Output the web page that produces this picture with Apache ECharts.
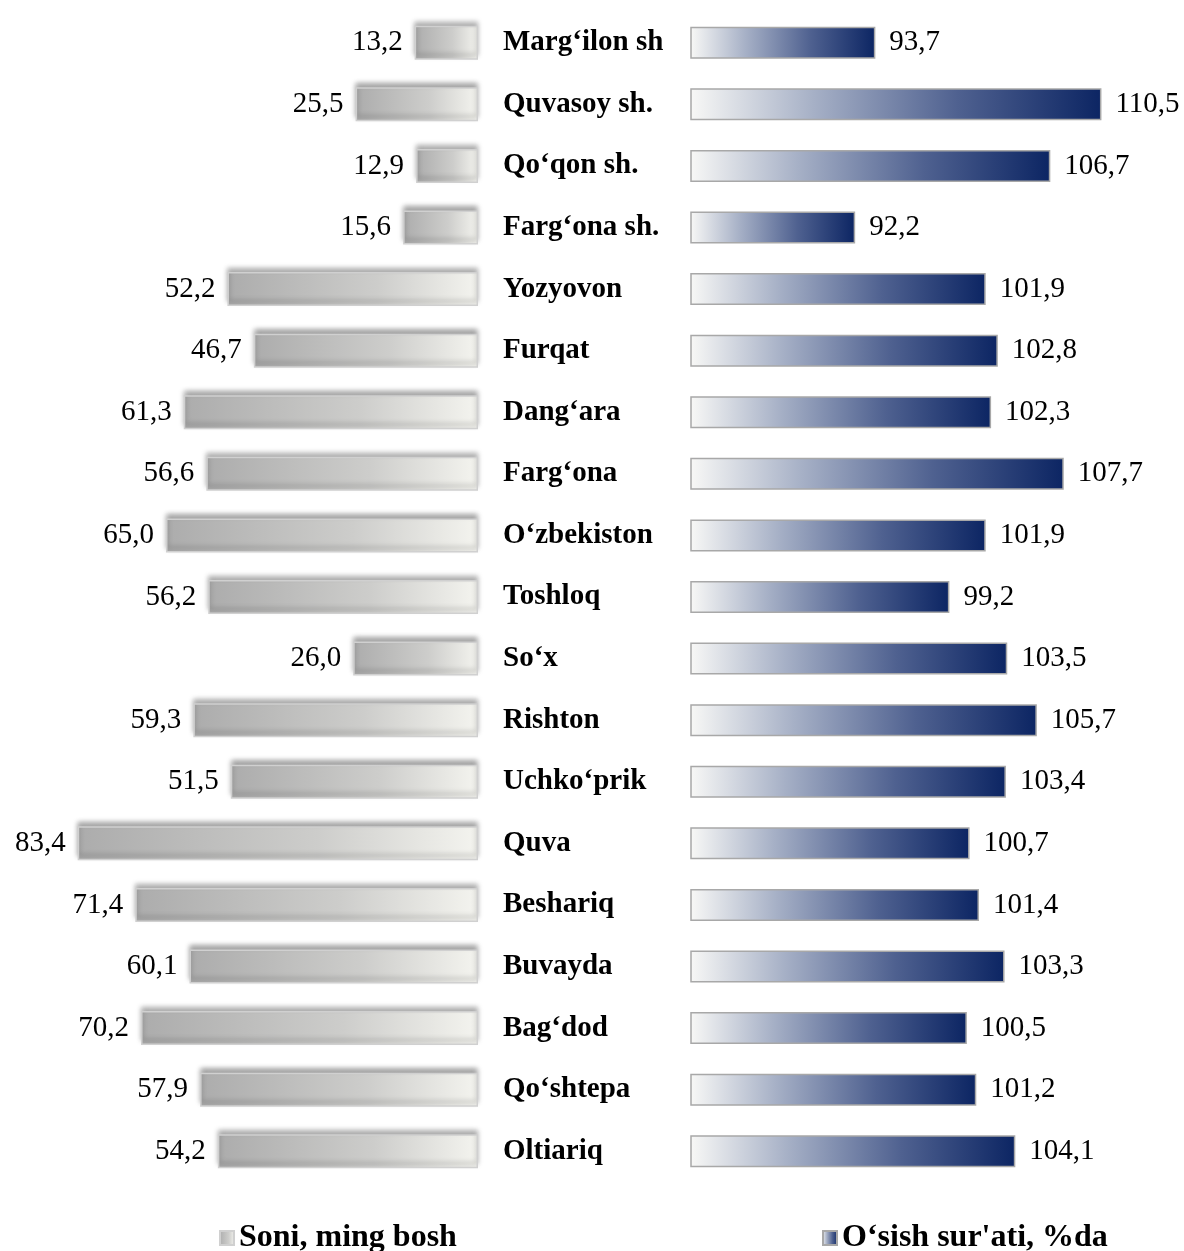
<!DOCTYPE html>
<html>
<head>
<meta charset="utf-8">
<script src="https://cdn.jsdelivr.net/npm/echarts@6/dist/echarts.min.js"></script>
<style>html,body{margin:0;padding:0;background:#fff}#c{width:1184px;height:1251px}</style>
</head>
<body>
<div id="c"></div>
<script>
var categories = ["Marg‘ilon sh.", "Quvasoy sh.", "Qo‘qon sh.", "Farg‘ona sh.", "Yozyovon", "Furqat", "Dang‘ara", "Farg‘ona", "O‘zbekiston", "Toshloq", "So‘x", "Rishton", "Uchko‘prik", "Quva", "Beshariq", "Buvayda", "Bag‘dod", "Qo‘shtepa", "Oltiariq"];
var soniValues = [13.2, 25.5, 12.9, 15.6, 52.2, 46.7, 61.3, 56.6, 65.0, 56.2, 26.0, 59.3, 51.5, 83.4, 71.4, 60.1, 70.2, 57.9, 54.2];
var osishValues = [93.7, 110.5, 106.7, 92.2, 101.9, 102.8, 102.3, 107.7, 101.9, 99.2, 103.5, 105.7, 103.4, 100.7, 101.4, 103.3, 100.5, 101.2, 104.1];
var seriesNames = ["Soni, ming bosh", "O‘sish sur'ati, %da"];

var SERIF = '"Liberation Serif", "Times New Roman", serif';
function fmt(p) { return p.value.toFixed(1).replace('.', ','); }

var chart = echarts.init(document.getElementById('c'), null, {renderer: 'canvas'});
chart.setOption({
  backgroundColor: '#ffffff',
  animation: false,
  textStyle: {fontFamily: SERIF},
  legend: [
    {data: [seriesNames[0]], left: 214, bottom: -8, itemWidth: 14, itemHeight: 14, itemGap: 4, icon: 'rect',
     textStyle: {fontFamily: SERIF, fontSize: 32, fontWeight: 'bold', color: '#000'}},
    {data: [seriesNames[1]], left: 817, bottom: -8, itemWidth: 14, itemHeight: 14, itemGap: 4, icon: 'rect',
     textStyle: {fontFamily: SERIF, fontSize: 32, fontWeight: 'bold', color: '#000'}}
  ],
  grid: [
    {left: 46, width: 432, top: 12, bottom: 69},
    {left: 691, width: 471, top: 12, bottom: 69}
  ],
  xAxis: [
    {gridIndex: 0, type: 'value', inverse: true, min: 0, max: 90, show: false},
    {gridIndex: 1, type: 'value', min: 80, max: 115, show: false}
  ],
  yAxis: [
    {gridIndex: 0, type: 'category', data: categories, inverse: true, show: false},
    {gridIndex: 1, type: 'category', data: categories, inverse: true,
     axisLine: {show: false}, axisTick: {show: false},
     axisLabel: {show: true, margin: 188, align: 'left', width: 166, overflow: 'truncate', ellipsis: '',
       fontFamily: SERIF, fontSize: 29, fontWeight: 'bold', color: '#000'}}
  ],
  series: [
    {name: seriesNames[0], type: 'bar', xAxisIndex: 0, yAxisIndex: 0, data: soniValues, barWidth: 34,
     itemStyle: {
       color: new echarts.graphic.LinearGradient(0, 0, 1, 0, [
         {offset: 0, color: '#acacac'}, {offset: 0.6, color: '#cdcdcb'}, {offset: 1, color: '#f4f4ef'}]),
       borderColor: '#d0d0d0', borderWidth: 1.5,
       shadowColor: 'rgba(0,0,0,0.35)', shadowBlur: 5, shadowOffsetY: -4
     },
     label: {show: true, position: 'left', distance: 12, formatter: fmt,
       fontFamily: SERIF, fontSize: 29, color: '#000'}},
    {name: seriesNames[1], type: 'bar', xAxisIndex: 1, yAxisIndex: 1, data: osishValues, barWidth: 32,
     itemStyle: {
       color: new echarts.graphic.LinearGradient(0, 0, 1, 0, [
         {offset: 0, color: '#f8f8f6'}, {offset: 0.3, color: '#a6b0c6'}, {offset: 0.65, color: '#4f6190'}, {offset: 1, color: '#0c2563'}]),
       borderColor: '#a8a8a8', borderWidth: 1.5
     },
     label: {show: true, position: 'right', distance: 14, formatter: fmt,
       fontFamily: SERIF, fontSize: 29, color: '#000'}}
  ]
});
</script>
</body>
</html>
